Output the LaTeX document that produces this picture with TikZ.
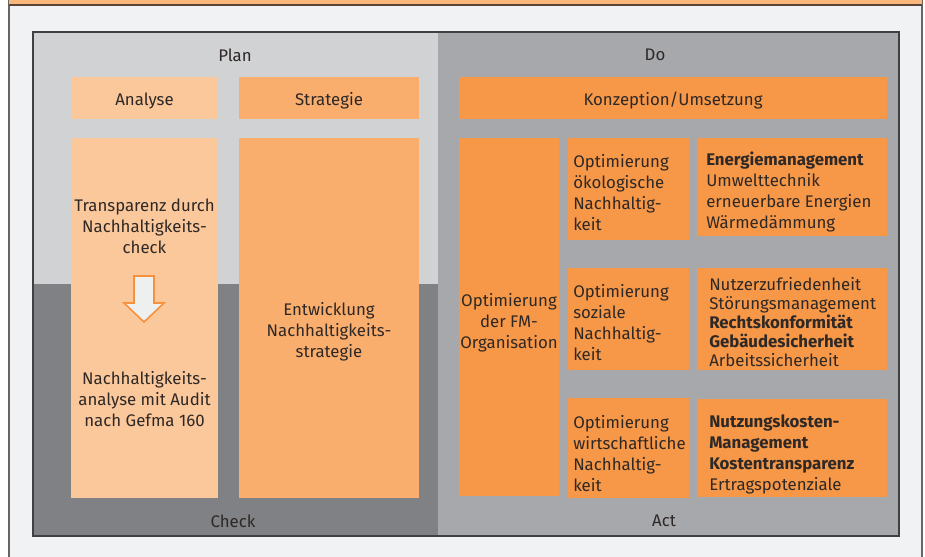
\documentclass[tikz,border=0pt]{standalone}
\usepackage{fontspec}
\setmainfont{Fira Sans}
\usepackage{xcolor}
\usetikzlibrary{calc}

\definecolor{cBand}{HTML}{F9B77C}
\definecolor{cBandLine}{HTML}{5A4438}
\definecolor{cPanel}{HTML}{F1F2F4}
\definecolor{cPlan}{HTML}{D1D2D4}
\definecolor{cDo}{HTML}{A7A8AC}
\definecolor{cCheck}{HTML}{808184}
\definecolor{cLight}{HTML}{FBC89B}
\definecolor{cMid}{HTML}{F9AE6E}
\definecolor{cDeep}{HTML}{F69847}
\definecolor{cArrow}{HTML}{F7913D}
\definecolor{cArrowFill}{HTML}{EEF0F0}
\definecolor{cInk}{HTML}{2E2826}

\tikzset{
  txt/.style={text=cInk, inner sep=0pt, font=\fontsize{12.6}{15.75}\selectfont},
  ctxt/.style={txt, align=center},
  ltxt/.style={txt, align=left, anchor=west},
}

\begin{document}
\begin{tikzpicture}[x=0.75pt, y=-0.75pt]

\useasboundingbox (0,0) rectangle (925,557);
\fill[white] (0,0) rectangle (925,557);

%-- outer panel and top band
\fill[cPanel] (9,0) rectangle (922,557);
\draw[black!60, line width=0.8pt] (9,0) -- (9,557);
\draw[black!60, line width=0.8pt] (922,0) -- (922,557);
\fill[cBand] (9,0) rectangle (922,5);
\draw[cBandLine, line width=1pt] (9,5) -- (922,5);

%-- PDCA quadrants
\fill[cPlan]  (33,32) rectangle (438,284);
\fill[cCheck] (33,284) rectangle (438,536);
\fill[cDo]    (438,32) rectangle (899,536);
\draw[black!75, line width=0.9pt] (33,32) rectangle (899,536);

\node[ctxt] (plan)  at (235,55)  {Plan};
\node[ctxt] (do)    at (655,55)  {Do};
\node[ctxt] (check) at (233,521) {Check};
\node[ctxt] (act)   at (664,521) {Act};

%-- Plan / Check column
\fill[cLight] (71,77)  rectangle (218,119);
\fill[cMid]   (239,77) rectangle (419,119);
\fill[cLight] (71,138) rectangle (218,498);
\fill[cMid]   (239,138) rectangle (419,498);

\node[ctxt] (analyse)   at (144.5,101) {Analyse};
\node[ctxt] (strategie) at (329,101)   {Strategie};

\node[ctxt] (check1) at (144.5,226) {Transparenz durch\\Nachhaltigkeits-\\check};
\node[ctxt] (audit)  at (144.5,399) {Nachhaltigkeits-\\analyse mit Audit\\nach Gefma 160};
\node[ctxt] (entw)   at (329,332)   {Entwicklung\\Nachhaltigkeits-\\strategie};

% down arrow between the two steps
\draw[cArrow, fill=cArrowFill, line width=1.2pt, line join=miter]
  (134,276) -- (154,276) -- (154,303) -- (164,303) -- (144,322)
  -- (124,303) -- (134,303) -- cycle;

%-- Do / Act column
\fill[cDeep] (459,77)  rectangle (887,119);
\node[ctxt] (konz) at (673,101) {Konzeption/Umsetzung};

\fill[cDeep] (459,138) rectangle (559,496);
\node[ctxt] (fmorg) at (509,323) {Optimierung\\der FM-\\Organisation};

\fill[cDeep] (568,138) rectangle (689,240);
\fill[cDeep] (568,268) rectangle (689,370);
\fill[cDeep] (568,398) rectangle (689,498);

\node[ltxt] (oeko)  at (573,193) {Optimierung\\ökologische\\Nachhaltig-\\keit};
\node[ltxt] (sozi)  at (573,323) {Optimierung\\soziale\\Nachhaltig-\\keit};
\node[ltxt] (wirt)  at (573,454) {Optimierung\\wirtschaftliche\\Nachhaltig-\\keit};

\fill[cDeep] (697,138) rectangle (887,236);
\fill[cDeep] (697,268) rectangle (887,370);
\fill[cDeep] (697,399) rectangle (887,497);

\node[ltxt] (energie) at (706,192)
  {\textbf{Energiemanagement}\\Umwelttechnik\\erneuerbare Energien\\Wärmedämmung};
\node[ltxt, font=\fontsize{12.6}{14.25}\selectfont] (nutzer) at (709,322)
  {Nutzerzufriedenheit\\Störungsmanagement\\\textbf{Rechtskonformität}\\\textbf{Gebäudesicherheit}\\Arbeitssicherheit};
\node[ltxt] (kosten) at (709,454)
  {\textbf{Nutzungskosten-}\\\textbf{Management}\\\textbf{Kostentransparenz}\\Ertragspotenziale};

\end{tikzpicture}
\end{document}
